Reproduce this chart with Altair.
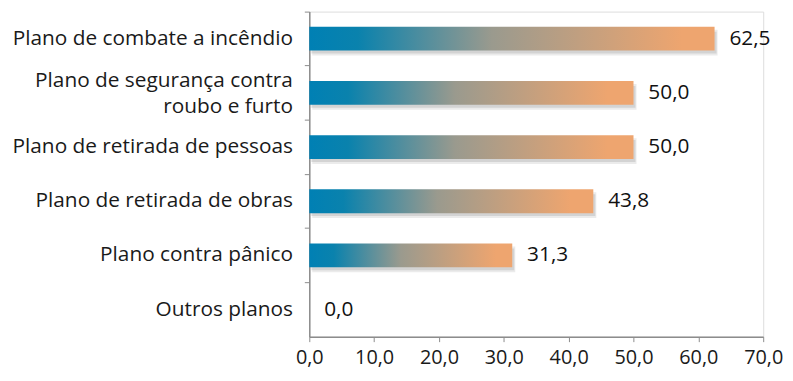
import altair as alt
import pandas as pd

categories = [
    "Plano de combate a incêndio",
    "Plano de segurança contra|roubo e furto",
    "Plano de retirada de pessoas",
    "Plano de retirada de obras",
    "Plano contra pânico",
    "Outros planos",
]
values = [62.5, 50.0, 50.0, 43.8, 31.3, 0.0]
x_ticks = [0, 10, 20, 30, 40, 50, 60, 70]

df = pd.DataFrame({"cat": categories, "v": values})

FONT = "Open Sans"
FS = 21
NFS = 20

y_enc = alt.Y(
    "cat:N",
    sort=categories,
    title=None,
    axis=alt.Axis(
        labelExpr="split(datum.label, '|')",
        labelFont=FONT,
        labelFontSize=FS,
        labelColor="#1a1a1a",
        labelLineHeight=26,
        labelPadding=12,
        labelOffset={"condition": {"test": "indexof(datum.label, '|') >= 0", "value": -12}, "value": 0},
        bandPosition=0,
        tickSize=5,
        tickColor="#8c8c8c",
        domainColor="#8c8c8c",
        domainWidth=1.5,
        labelLimit=400,
    ),
    scale=alt.Scale(paddingInner=0, paddingOuter=0),
)

x_enc = alt.X(
    "v:Q",
    title=None,
    scale=alt.Scale(domain=[0, 70], nice=False),
    axis=alt.Axis(
        values=x_ticks,
        labelExpr="replace(format(datum.value, '.1f'), '.', ',')",
        labelFont=FONT,
        labelFontSize=NFS,
        labelColor="#1a1a1a",
        labelPadding=6,
        labelFlush=False,
        tickSize=5,
        tickColor="#8c8c8c",
        domainColor="#8c8c8c",
        domainWidth=1.5,
        grid=False,
    ),
)

base = alt.Chart(df)

shadow1 = base.mark_bar(size=26, color="#b0b0b0", opacity=0.25, xOffset=3, yOffset=4).encode(
    x=x_enc, y=y_enc
)
shadow2 = base.mark_bar(size=22, color="#9a9a9a", opacity=0.3, xOffset=2, yOffset=4).encode(
    x=x_enc, y=y_enc
)

grad = alt.Gradient(
    gradient="linear",
    stops=[
        alt.GradientStop(offset=0.0, color="#0080b4"),
        alt.GradientStop(offset=0.12, color="#0a82ad"),
        alt.GradientStop(offset=0.45, color="#9a9a8e"),
        alt.GradientStop(offset=0.92, color="#eea56f"),
        alt.GradientStop(offset=1.0, color="#eea56f"),
    ],
    x1=0, x2=1, y1=0, y2=0,
)

bars = base.mark_bar(size=24, color=grad).encode(x=x_enc, y=y_enc)

labels = base.transform_calculate(
    lab="replace(format(datum.v, '.1f'), '.', ',')"
).mark_text(align="left", baseline="middle", dx=15, font=FONT, fontSize=21, color="#111111").encode(
    x=x_enc, y=y_enc, text="lab:N"
)

chart = (
    alt.layer(shadow1, shadow2, bars, labels)
    .properties(
        width=458,
        height=328,
        autosize=alt.AutoSizeParams(type="none"),
        padding={"left": 304, "top": 2, "right": 22, "bottom": 34},
    )
    .configure_view(stroke=None)
    .configure(background="white")
)

chart.save("out.html", embed_options={"renderer": "svg", "actions": False})
